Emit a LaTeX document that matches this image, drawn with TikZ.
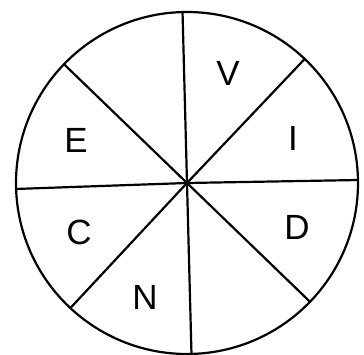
\documentclass[tikz,border=0pt]{standalone}
\usepackage{fontspec}
\setmainfont{Liberation Sans}
\usetikzlibrary{calc}
\begin{document}
\begin{tikzpicture}[x=1pt,y=1pt,
  ln/.style={line width=2.2pt,black},
  lbl/.style={font=\fontsize{35}{35}\selectfont,inner sep=0pt}]
\useasboundingbox (0,0) rectangle (364,354);
\coordinate (c) at (187,171);
\draw[ln] (c) circle[radius=171];
\foreach \a/\n in {91.5/t,46.5/tr,1/r,-44/br,-88.5/b,227/bl,182/l,136/tl}{
  \coordinate (\n) at ($(c)+(\a:171)$);
}
\foreach \n in {t,tr,r,br,b,bl,l,tl}{\draw[ln] (c) -- (\n);}
\node[lbl] (V) at (228,281) {V};
\node[lbl] (I) at (293,216) {I};
\node[lbl] (D) at (297,127) {D};
\node[lbl] (N) at (145,57) {N};
\node[lbl] (C) at (79,122) {C};
\node[lbl] (E) at (76,214) {E};
\end{tikzpicture}
\end{document}
